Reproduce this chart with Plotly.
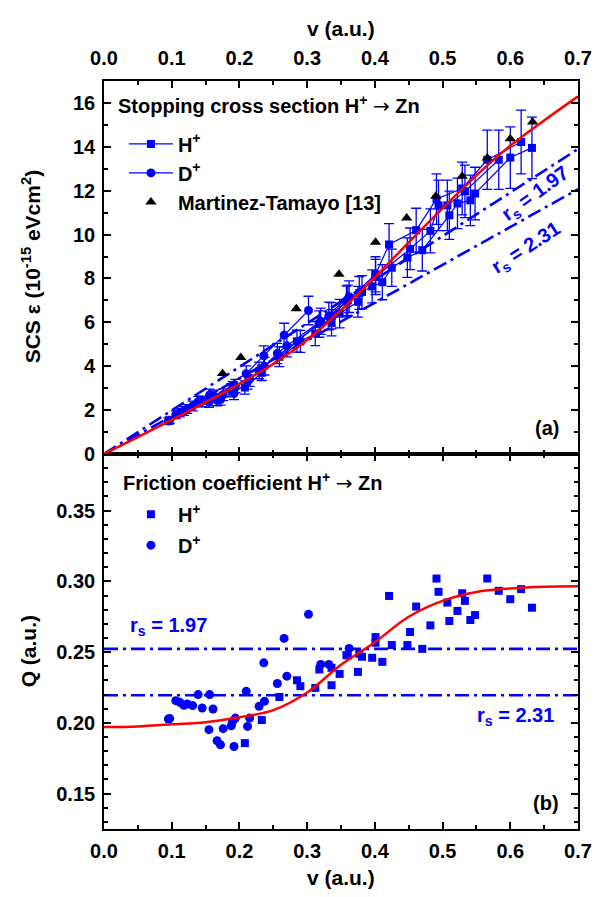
import plotly.graph_objects as go

# ---------------- data ----------------
# (b) friction coefficient Q(v) and (a) stopping cross section S(v)
H_v = [0.208, 0.233, 0.259, 0.285, 0.290, 0.312, 0.318, 0.336, 0.336, 0.348,
       0.358, 0.360, 0.377, 0.381, 0.375, 0.396, 0.401, 0.401, 0.411, 0.421,
       0.425, 0.448, 0.452, 0.461, 0.470, 0.482, 0.491, 0.494, 0.507, 0.510,
       0.522, 0.529, 0.533, 0.541, 0.548, 0.566, 0.583, 0.600, 0.616, 0.632]
H_Q = [0.1857, 0.2020, 0.2183, 0.2301, 0.2259, 0.2247, 0.2377, 0.2389, 0.2266, 0.2346,
       0.2479, 0.2477, 0.2488, 0.2467, 0.2360, 0.2460, 0.2606, 0.2566, 0.2431, 0.2897,
       0.2550, 0.2550, 0.2642, 0.2822, 0.2523, 0.2689, 0.3020, 0.2926, 0.2850, 0.2720,
       0.2791, 0.2916, 0.2862, 0.2727, 0.2762, 0.3020, 0.2933, 0.2874, 0.2945, 0.2814]
H_S = [3.03, 3.70, 4.43, 5.14, 5.13, 5.49, 5.92, 6.30, 5.98, 6.40,
       6.95, 7.00, 7.34, 7.38, 6.94, 7.64, 8.19, 8.07, 7.83, 9.55,
       8.49, 8.95, 9.35, 10.20, 9.29, 10.17, 11.62, 11.33, 11.33, 10.88,
       11.42, 12.10, 11.97, 11.56, 11.87, 13.41, 13.41, 13.51, 14.22, 13.95]
H_err = [0.30, 0.35, 0.45, 0.50, 0.50, 0.55, 0.60, 0.60, 0.60, 0.65,
         0.70, 0.70, 0.75, 0.75, 0.70, 0.75, 0.80, 0.80, 0.80, 0.95,
         0.85, 0.90, 0.95, 1.00, 0.95, 1.00, 1.15, 1.15, 1.15, 1.10,
         1.15, 1.20, 1.20, 1.15, 1.20, 1.35, 1.35, 1.40, 1.45, 1.40]
H_run = ["b", "b", "a", "a", "b", "b", "a", "b", "c", "c",
         "b", "a", "b", "c", "c", "c", "a", "b", "c", "a",
         "c", "c", "b", "a", "c", "b", "a", "b", "b", "c",
         "c", "a", "b", "c", "c", "a", "b", "c", "a", "c"]

D_v = [0.095, 0.097, 0.106, 0.112, 0.118, 0.123, 0.131, 0.139, 0.145, 0.156,
       0.161, 0.155, 0.167, 0.172, 0.176, 0.188, 0.190, 0.194, 0.192, 0.210,
       0.212, 0.215, 0.229, 0.237, 0.236, 0.256, 0.266, 0.270, 0.302, 0.320,
       0.332, 0.362]
D_Q = [0.2027, 0.2030, 0.2157, 0.2145, 0.2124, 0.2133, 0.2122, 0.2200, 0.2105, 0.2200,
       0.2098, 0.1952, 0.1874, 0.1845, 0.1959, 0.1980, 0.2011, 0.2034, 0.1833, 0.2223,
       0.1975, 0.2034, 0.2117, 0.2152, 0.2424, 0.2278, 0.2597, 0.2330, 0.2767, 0.2413,
       0.2413, 0.2526]
D_S = [1.50, 1.54, 1.79, 1.88, 1.96, 2.05, 2.19, 2.39, 2.40, 2.69,
       2.65, 2.37, 2.45, 2.48, 2.70, 2.91, 3.00, 3.10, 2.76, 3.66,
       3.29, 3.42, 3.81, 4.00, 4.48, 4.58, 5.42, 4.93, 6.54, 6.05,
       6.29, 7.17]
D_err = [0.15, 0.15, 0.18, 0.19, 0.20, 0.20, 0.22, 0.24, 0.24, 0.27,
         0.26, 0.24, 0.25, 0.25, 0.27, 0.30, 0.30, 0.30, 0.28, 0.36,
         0.33, 0.34, 0.38, 0.40, 0.45, 0.46, 0.54, 0.50, 0.65, 0.60,
         0.63, 0.72]
D_run = ["b", "c", "a", "b", "c", "b", "b", "a", "b", "a",
         "b", "c", "c", "c", "c", "c", "c", "b", "c", "a",
         "c", "b", "c", "b", "a", "b", "a", "b", "a", "b",
         "c", "b"]

MT_v = [0.175, 0.202, 0.284, 0.347, 0.401, 0.447, 0.490, 0.529, 0.566, 0.600, 0.633]
MT_S = [3.67, 4.40, 6.62, 8.19, 9.65, 10.76, 11.75, 12.66, 13.49, 14.37, 15.13]

fit_v = [0.0, 0.05, 0.1, 0.15, 0.2, 0.25, 0.3, 0.35, 0.4, 0.45, 0.5, 0.55, 0.6, 0.65, 0.7]
fit_Q = [0.197, 0.1975, 0.199, 0.2005, 0.204, 0.209, 0.2215, 0.241, 0.257, 0.275,
         0.2862, 0.2925, 0.295, 0.2962, 0.2965]
fit_S = [0.0, 0.77, 1.56, 2.36, 3.20, 4.10, 5.20, 6.55, 8.05, 9.65,
         11.20, 12.70, 14.05, 15.20, 16.30]

rs_labels = ["1.97", "2.31"]
rs_Q = [0.2523, 0.2195]
line_v = [0.0, 0.7]
rs_S = [[0.0, 13.9], [0.0, 12.07]]

BLUE = "#0000ff"
RED = "#ff0000"
FONT = "Liberation Sans"
DASH = "14px,5px,3px,5px"
ARROW = "<span style=\"font-family:'DejaVu Sans';font-weight:normal\">→</span>"
FS = 20

fig = go.Figure()

# ---------------- (a) top panel ----------------
for S_line in rs_S:
    fig.add_trace(go.Scatter(x=line_v, y=S_line, mode="lines", xaxis="x2", yaxis="y2",
                             line=dict(color=BLUE, width=2.6, dash=DASH), showlegend=False,
                             hoverinfo="skip"))


def add_runs(v, S, err, runs, symbol, size, name):
    first = True
    for r in ["a", "b", "c"]:
        idx = sorted([i for i in range(len(v)) if runs[i] == r], key=lambda i: v[i])
        fig.add_trace(go.Scatter(
            x=[v[i] for i in idx], y=[S[i] for i in idx], mode="lines+markers",
            xaxis="x2", yaxis="y2", name=name, legend="legend", legendgroup=name,
            showlegend=first,
            line=dict(color=BLUE, width=1.2),
            marker=dict(symbol=symbol, size=size, color=BLUE),
            error_y=dict(type="data", array=[err[i] for i in idx], color=BLUE,
                         thickness=1.3, width=5)))
        first = False


add_runs(H_v, H_S, H_err, H_run, "square", 8, "H<sup>+</sup>")
add_runs(D_v, D_S, D_err, D_run, "circle", 9, "D<sup>+</sup>")

fig.add_trace(go.Scatter(x=MT_v, y=MT_S, mode="markers", xaxis="x2", yaxis="y2",
                         name="Martinez-Tamayo [13]", legend="legend",
                         marker=dict(symbol="triangle-up", size=10, color="black")))

fig.add_trace(go.Scatter(x=fit_v, y=fit_S, mode="lines", xaxis="x2", yaxis="y2",
                         line=dict(color=RED, width=2.5, shape="spline", smoothing=0.8),
                         showlegend=False))

# ---------------- (b) bottom panel ----------------
for q in rs_Q:
    fig.add_trace(go.Scatter(x=line_v, y=[q, q], mode="lines", xaxis="x", yaxis="y",
                             line=dict(color=BLUE, width=2.6, dash=DASH), showlegend=False))

fig.add_trace(go.Scatter(x=H_v, y=H_Q, mode="markers", xaxis="x", yaxis="y",
                         name="H<sup>+</sup>", legend="legend2", legendgroup="h2",
                         marker=dict(symbol="square", size=8, color=BLUE)))
fig.add_trace(go.Scatter(x=D_v, y=D_Q, mode="markers", xaxis="x", yaxis="y",
                         name="D<sup>+</sup>", legend="legend2", legendgroup="d2",
                         marker=dict(symbol="circle", size=9, color=BLUE)))
fig.add_trace(go.Scatter(x=fit_v, y=fit_Q, mode="lines", xaxis="x", yaxis="y",
                         line=dict(color=RED, width=2.5, shape="spline"), showlegend=False))

# ---------------- layout ----------------
L, R, T, B = 104, 24, 81, 68
W, Hh = 604, 897
PH = Hh - T - B
split = 375 / PH

tickfont = dict(family=FONT, size=FS, color="black", weight="bold")
common = dict(showline=True, linecolor="black", linewidth=1.6, mirror="ticks",
              ticks="inside", ticklen=7, tickwidth=1.5, tickcolor="black",
              showgrid=False, zeroline=False, tickfont=tickfont)
minor_x = dict(dtick=0.05, ticklen=4, ticks="inside", tickwidth=1.5, tickcolor="black")

fig.update_layout(
    width=W, height=Hh, margin=dict(l=L, r=R, t=T, b=B),
    paper_bgcolor="white", plot_bgcolor="white",
    font=dict(family=FONT, color="black"),
    xaxis=dict(domain=[0, 1], anchor="y", range=[0, 0.7], dtick=0.1, tick0=0,
               tickformat=".1f", ticklabelstandoff=3, minor=minor_x, **common),
    yaxis=dict(domain=[0, split], anchor="x", range=[0.125, 0.39],
               tickvals=[0.15, 0.20, 0.25, 0.30, 0.35], tickformat=".2f", ticklabelstandoff=3,
               minor=dict(dtick=0.01, ticklen=4, ticks="inside", tickwidth=1.5, tickcolor="black"),
               **common),
    xaxis2=dict(domain=[0, 1], anchor="y2", side="top", range=[0, 0.7], dtick=0.1, tick0=0,
                tickformat=".1f", ticklabelstandoff=6, minor=minor_x, **common),
    yaxis2=dict(domain=[split, 1], anchor="x2", range=[0, 17], dtick=2, tick0=0,
                ticklabelstandoff=3,
                minor=dict(dtick=1, ticklen=4, ticks="inside", tickwidth=1.5, tickcolor="black"),
                **common),
    legend=dict(x=0.042, y=0.942, xanchor="left", yanchor="top", itemwidth=44,
                bgcolor="rgba(0,0,0,0)", borderwidth=0, tracegroupgap=0,
                font=dict(family=FONT, size=FS, color="black", weight="bold")),
    legend2=dict(x=0.042, y=0.447, xanchor="left", yanchor="top", itemwidth=44,
                 bgcolor="rgba(0,0,0,0)", borderwidth=0, tracegroupgap=2,
                 font=dict(family=FONT, size=FS, color="black", weight="bold")),
)


def px_x(p):
    return (p - L) / (W - L - R)


def px_y(p):
    return (Hh - B - p) / PH


bold = dict(family=FONT, size=FS, color="black", weight="bold")
blue_bold = dict(family=FONT, size=FS, color=BLUE, weight="bold")
title_font = dict(family=FONT, size=21, color="black", weight="bold")
ann = [
    dict(text="Stopping cross section H<sup>+</sup> " + ARROW + " Zn", x=px_x(116), y=px_y(105),
         xanchor="left", yanchor="middle", font=bold),
    dict(text="Friction coefficient H<sup>+</sup> " + ARROW + " Zn", x=px_x(121), y=px_y(482),
         xanchor="left", yanchor="middle", font=bold),
    dict(text="(a)", x=px_x(563), y=px_y(428), xanchor="right", yanchor="middle", font=bold),
    dict(text="(b)", x=px_x(563), y=px_y(803), xanchor="right", yanchor="middle", font=bold),
    dict(text="v (a.u.)", x=0.5, y=px_y(28), xanchor="center", yanchor="middle", font=title_font),
    dict(text="v (a.u.)", x=0.5, y=px_y(877), xanchor="center", yanchor="middle", font=title_font),
    dict(text="SCS ε (10<sup>-15</sup> eVcm<sup>2</sup>)", x=px_x(31), y=px_y(267),
         xanchor="center", yanchor="middle", textangle=-90, font=title_font),
    dict(text="Q (a.u.)", x=px_x(28), y=px_y(651), xanchor="center", yanchor="middle",
         textangle=-90, font=title_font),
]
for a in ann:
    a.update(xref="paper", yref="paper", showarrow=False)
# r_s labels
ann += [
    dict(text="r<sub>s</sub> = " + rs_labels[0], x=0.637, y=11.84, xref="x2", yref="y2",
         textangle=-36, showarrow=False, font=blue_bold),
    dict(text="r<sub>s</sub> = " + rs_labels[1], x=0.624, y=9.35, xref="x2", yref="y2",
         textangle=-33, showarrow=False, font=blue_bold),
    dict(text="r<sub>s</sub> = " + rs_labels[0], x=0.035, y=0.268, xref="x", yref="y",
         xanchor="left", yanchor="middle", showarrow=False, font=blue_bold),
    dict(text="r<sub>s</sub> = " + rs_labels[1], x=0.548, y=0.2046, xref="x", yref="y",
         xanchor="left", yanchor="middle", showarrow=False, font=blue_bold),
]
fig.update_layout(annotations=ann)

fig.write_html("out.html")
